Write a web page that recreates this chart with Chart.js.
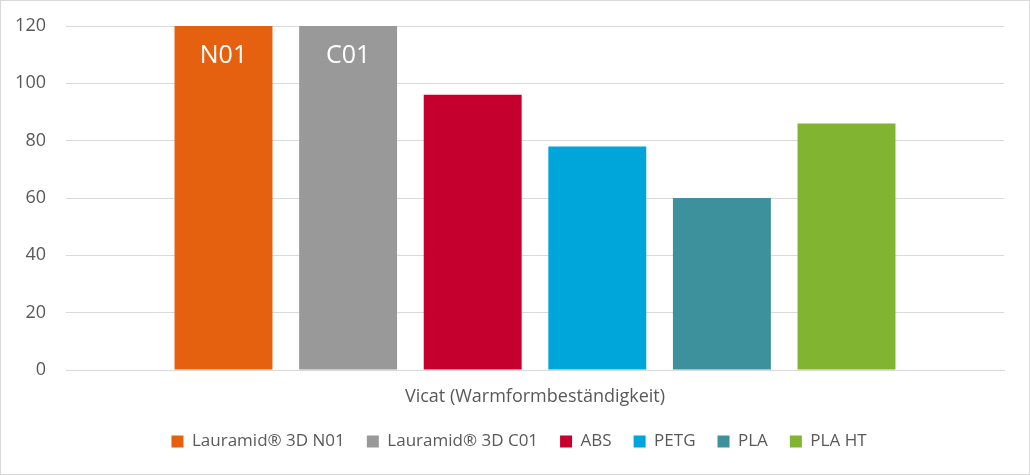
<!DOCTYPE html>
<html>
<head>
<meta charset="utf-8">
<script src="https://cdn.jsdelivr.net/npm/chart.js@4.4.1/dist/chart.umd.min.js"></script>
<style>
  html, body { margin: 0; padding: 0; background: #fff; }
  .box { width: 1030px; height: 475px; box-sizing: border-box; border: 1px solid #d9d9d9; }
  .box canvas { display: block; }
</style>
</head>
<body>
<div class="box"><canvas id="vicatChart" width="1028" height="473"></canvas></div>
<script>
// Daten
const kategorien = ['Vicat (Warmformbeständigkeit)'];
const materialien = ['Lauramid® 3D N01', 'Lauramid® 3D C01', 'ABS', 'PETG', 'PLA', 'PLA HT'];
const vicatWerte = [120, 120, 96, 78, 60, 86];
const balkenTexte = ['N01', 'C01', '', '', '', ''];
const yTicks = [0, 20, 40, 60, 80, 100, 120];

const farben = ['#e5600f', '#999999', '#c6002e', '#00a6da', '#3d919c', '#80b431'];
const schrift = '"Open Sans", "Liberation Sans", sans-serif';
const textFarbe = '#595959';

// Beschriftung im Balken (N01 / C01)
const balkenText = {
  id: 'balkenText',
  afterDatasetsDraw(chart) {
    const ctx = chart.ctx;
    ctx.save();
    ctx.font = '25px ' + schrift;
    ctx.fillStyle = '#ffffff';
    ctx.textAlign = 'center';
    ctx.textBaseline = 'middle';
    chart.data.datasets.forEach((ds, i) => {
      if (!balkenTexte[i]) return;
      const bar = chart.getDatasetMeta(i).data[0];
      ctx.fillText(balkenTexte[i], bar.x, bar.y + 30);
    });
    ctx.restore();
  }
};

// Legende unter der Achsenbeschriftung zentrieren (nicht unter der ganzen Breite)
const legendeMitte = {
  id: 'legendeMitte',
  afterLayout(chart) {
    const lg = chart.legend;
    if (!lg) return;
    const mitte = (chart.chartArea.left + chart.chartArea.right) / 2 - 16;
    lg.left = 2 * mitte - lg.right;
  }
};

const datasets = materialien.map((name, i) => ({
  label: name,
  data: [vicatWerte[i]],
  backgroundColor: farben[i],
  borderWidth: 0,
  barPercentage: 0.786,
  categoryPercentage: 0.797
}));

new Chart(document.getElementById('vicatChart').getContext('2d'), {
  type: 'bar',
  data: { labels: kategorien, datasets: datasets },
  plugins: [balkenText, legendeMitte],
  options: {
    responsive: false,
    animation: false,
    layout: { padding: { top: 25, right: 25, left: 0, bottom: 14 } },
    plugins: {
      tooltip: { enabled: false },
      legend: {
        position: 'bottom',
        labels: {
          color: textFarbe,
          font: { family: schrift, size: 17 },
          boxWidth: 12,
          boxHeight: 12,
          padding: 22
        }
      }
    },
    scales: {
      y: {
        min: 0,
        max: 120,
        afterBuildTicks: s => { s.ticks = yTicks.map(v => ({ value: v })); },
        afterFit: s => { s.width = 65; s.paddingTop = 0; s.paddingBottom = 0; },
        ticks: { color: textFarbe, font: { family: schrift, size: 18 }, padding: 20 },
        grid: { color: '#d9d9d9', drawTicks: false },
        border: { display: false }
      },
      x: {
        afterFit: s => { s.height = 41; },
        ticks: { color: textFarbe, font: { family: schrift, size: 18 }, padding: 8 },
        grid: { display: false },
        border: { color: '#d9d9d9', width: 1 }
      }
    }
  }
});
</script>
</body>
</html>
